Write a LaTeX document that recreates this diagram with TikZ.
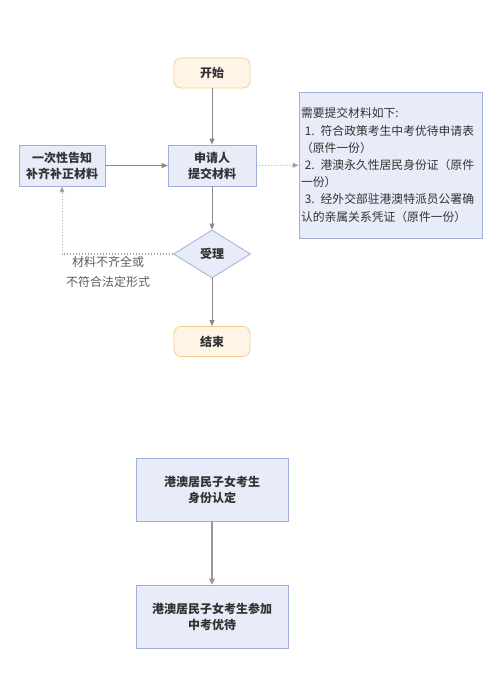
\documentclass[tikz,border=0pt]{standalone}
\usepackage{fontspec}
\setmainfont{Noto Sans CJK SC}
\usetikzlibrary{shapes.geometric,arrows.meta}
\definecolor{bfill}{HTML}{E8ECF8}
\definecolor{bdraw}{HTML}{A2AEDA}
\definecolor{ofill}{HTML}{FFF5E6}
\definecolor{odraw}{HTML}{F5CB90}
\definecolor{txt}{HTML}{333333}
\definecolor{arr}{HTML}{888888}
\definecolor{dotc}{HTML}{AAAAAA}
\tikzset{
  bluebox/.style={draw=bdraw, fill=bfill, line width=0.8pt, text=txt, align=center, font=\fontsize{12}{16}\selectfont\bfseries},
  termbox/.style={draw=odraw, fill=ofill, line width=0.8pt, rounded corners=7pt, text=txt, align=center, minimum width=76pt, minimum height=30pt, font=\fontsize{12}{16}\selectfont\bfseries},
  arrowline/.style={draw=arr, line width=0.9pt, -{Triangle[length=6pt,width=5pt]}},
  dotline/.style={draw=dotc, line width=1pt, dotted, -{Triangle[length=6pt,width=5pt,fill=arr]}},
}
\begin{document}
\begin{tikzpicture}[x=1pt,y=-1pt]
\useasboundingbox[fill=white] (0,0) rectangle (500,700);
\node[termbox] (start) at (212,73) {开始};
\node[bluebox, minimum width=88pt, minimum height=41pt] (apply) at (212,165.5) {申请人\\提交材料};
\node[bluebox, minimum width=86pt, minimum height=41pt] (notify) at (62,165.5) {一次性告知\\补齐补正材料};
\node[draw=bdraw, fill=bfill, line width=0.8pt, text=txt, align=left, text width=179pt, inner sep=2pt, minimum height=146pt, font=\fontsize{11.8}{17.2}\selectfont] (mat) at (390.5,165) {需要提交材料如下:\\
\ 1. 符合政策考生中考优待申请表\\
（原件一份）\\
\ 2. 港澳永久性居民身份证（原件\\
一份）\\
\ 3. 经外交部驻港澳特派员公署确\\
认的亲属关系凭证（原件一份）};
\node[diamond, draw=bdraw, fill=bfill, line width=0.8pt, minimum width=77pt, minimum height=48pt, inner sep=0pt, text=txt, font=\fontsize{12}{16}\selectfont\bfseries] (accept) at (212,254) {受理};
\node[termbox] (end) at (212,341.5) {结束};
\node[text=txt!80, align=center, font=\fontsize{12}{20}\selectfont] (lbl) at (108,272) {材料不齐全或\\不符合法定形式};
\coordinate (corner) at (62,254);
\draw[arrowline] (start) -- (apply);
\draw[arrowline] (notify) -- (apply);
\draw[arrowline] (apply) -- (accept);
\draw[arrowline] (accept) -- (end);
\draw[dotline] (apply) -- (mat);
\draw[dotline] (accept.west) -- (corner) -- (notify.south);
\node[bluebox, minimum width=152pt, minimum height=63pt] (id) at (212,489.5) {港澳居民子女考生\\身份认定};
\node[bluebox, minimum width=152pt, minimum height=63pt] (pref) at (212,616.5) {港澳居民子女考生参加\\中考优待};
\draw[draw=dotc!90!black, line width=1.4pt, -{Triangle[length=6pt,width=6pt]}] (id) -- (pref);
\end{tikzpicture}
\end{document}
